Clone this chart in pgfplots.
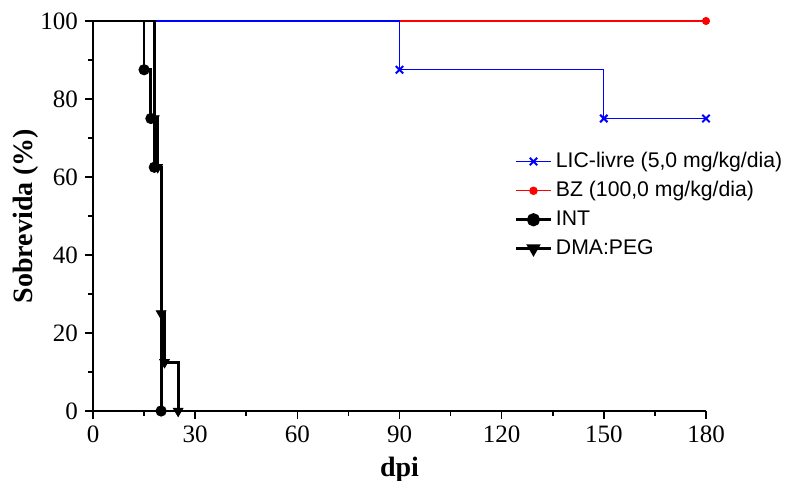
\documentclass[border=0pt]{standalone}
\usepackage{pgfplots}
\pgfplotsset{compat=1.18}
\usepackage{fontspec}
\setmainfont{Liberation Serif}
\newfontfamily\arial{Liberation Sans}

\begin{document}
\begin{tikzpicture}
\begin{axis}[
    scale only axis,
    width=306.5pt, height=195pt,
    xmin=0, xmax=180, ymin=0, ymax=100,
    xtick={0,30,...,180}, ytick={0,20,...,100},
    minor xtick={15,45,...,165}, minor ytick={10,30,...,90},
    axis x line*=bottom, axis y line*=left,
    axis line style={line width=0.8pt, -},
    tick style={line width=0.8pt, black},
    tick align=outside,
    major tick length=4pt, minor tick length=2.5pt,
    tick label style={font=\fontsize{12.5}{14}\selectfont},
    /pgf/number format/assume math mode=true,
    xlabel={\textbf{dpi}}, ylabel={\textbf{Sobrevida (\%)}},
    label style={font=\fontsize{14}{16}\selectfont},
    ylabel style={yshift=-6pt},
    clip=false,
    legend style={draw=none, fill=none, at={(0.678,0.685)}, anchor=north west,
        font=\arial\fontsize{10.6}{12}\selectfont, row sep=1.5pt,
        legend cell align=left},
]
\coordinate (sw) at (rel axis cs:0,0);
\coordinate (ne) at (rel axis cs:1,1);
% step lines
\addplot[red, line width=0.6pt, forget plot] coordinates {
    (0,100) (180,100)};
\addplot[blue, line width=0.6pt, forget plot] coordinates {
    (0,100) (90,100) (90,87.5) (150,87.5) (150,75) (180,75)};
\addplot[black, line width=1.4pt, forget plot] coordinates {
    (0,100) (15,100) (15,87.5) (17,87.5) (17,75) (18,75) (18,62.5) (20,62.5) (20,0)};
\addplot[black, line width=1.4pt, forget plot] coordinates {
    (0,100) (18,100) (18,75) (19,75) (19,62.5) (20,62.5) (20,25) (21,25) (21,12.5) (25,12.5) (25,0)};
% markers
\addplot[blue, only marks, mark=x, mark size=2.6pt, line width=1pt, forget plot] coordinates {
    (90,87.5) (150,75) (180,75)};
\addplot[red, only marks, mark=*, mark size=1.8pt, forget plot] coordinates {(180,100)};
\addplot[black, only marks, mark=*, mark size=2.6pt, forget plot] coordinates {
    (15,87.5) (17,75) (18,62.5) (20,0)};
\addplot[black, only marks, mark=triangle*, mark size=2.8pt, mark options={rotate=180}, forget plot] coordinates {
    (18,75) (19,62.5) (20,25) (21,12.5) (25,0)};
% legend
\addlegendimage{blue, line width=0.6pt, mark=x, mark size=2.6pt, mark options={line width=1pt}}
\addlegendentry{LIC-livre (5,0 mg/kg/dia)}
\addlegendimage{red, line width=0.6pt, mark=*, mark size=1.8pt}
\addlegendentry{BZ (100,0 mg/kg/dia)}
\addlegendimage{black, line width=1.4pt, mark=*, mark size=2.6pt}
\addlegendentry{INT}
\addlegendimage{black, line width=1.4pt, mark=triangle*, mark size=2.8pt, mark options={rotate=180}}
\addlegendentry{DMA:PEG}
\end{axis}
\pgfresetboundingbox
\path ([shift={(-46.5pt,-35pt)}]sw) rectangle ([shift={(40pt,10.5pt)}]ne);
\end{tikzpicture}
\end{document}
